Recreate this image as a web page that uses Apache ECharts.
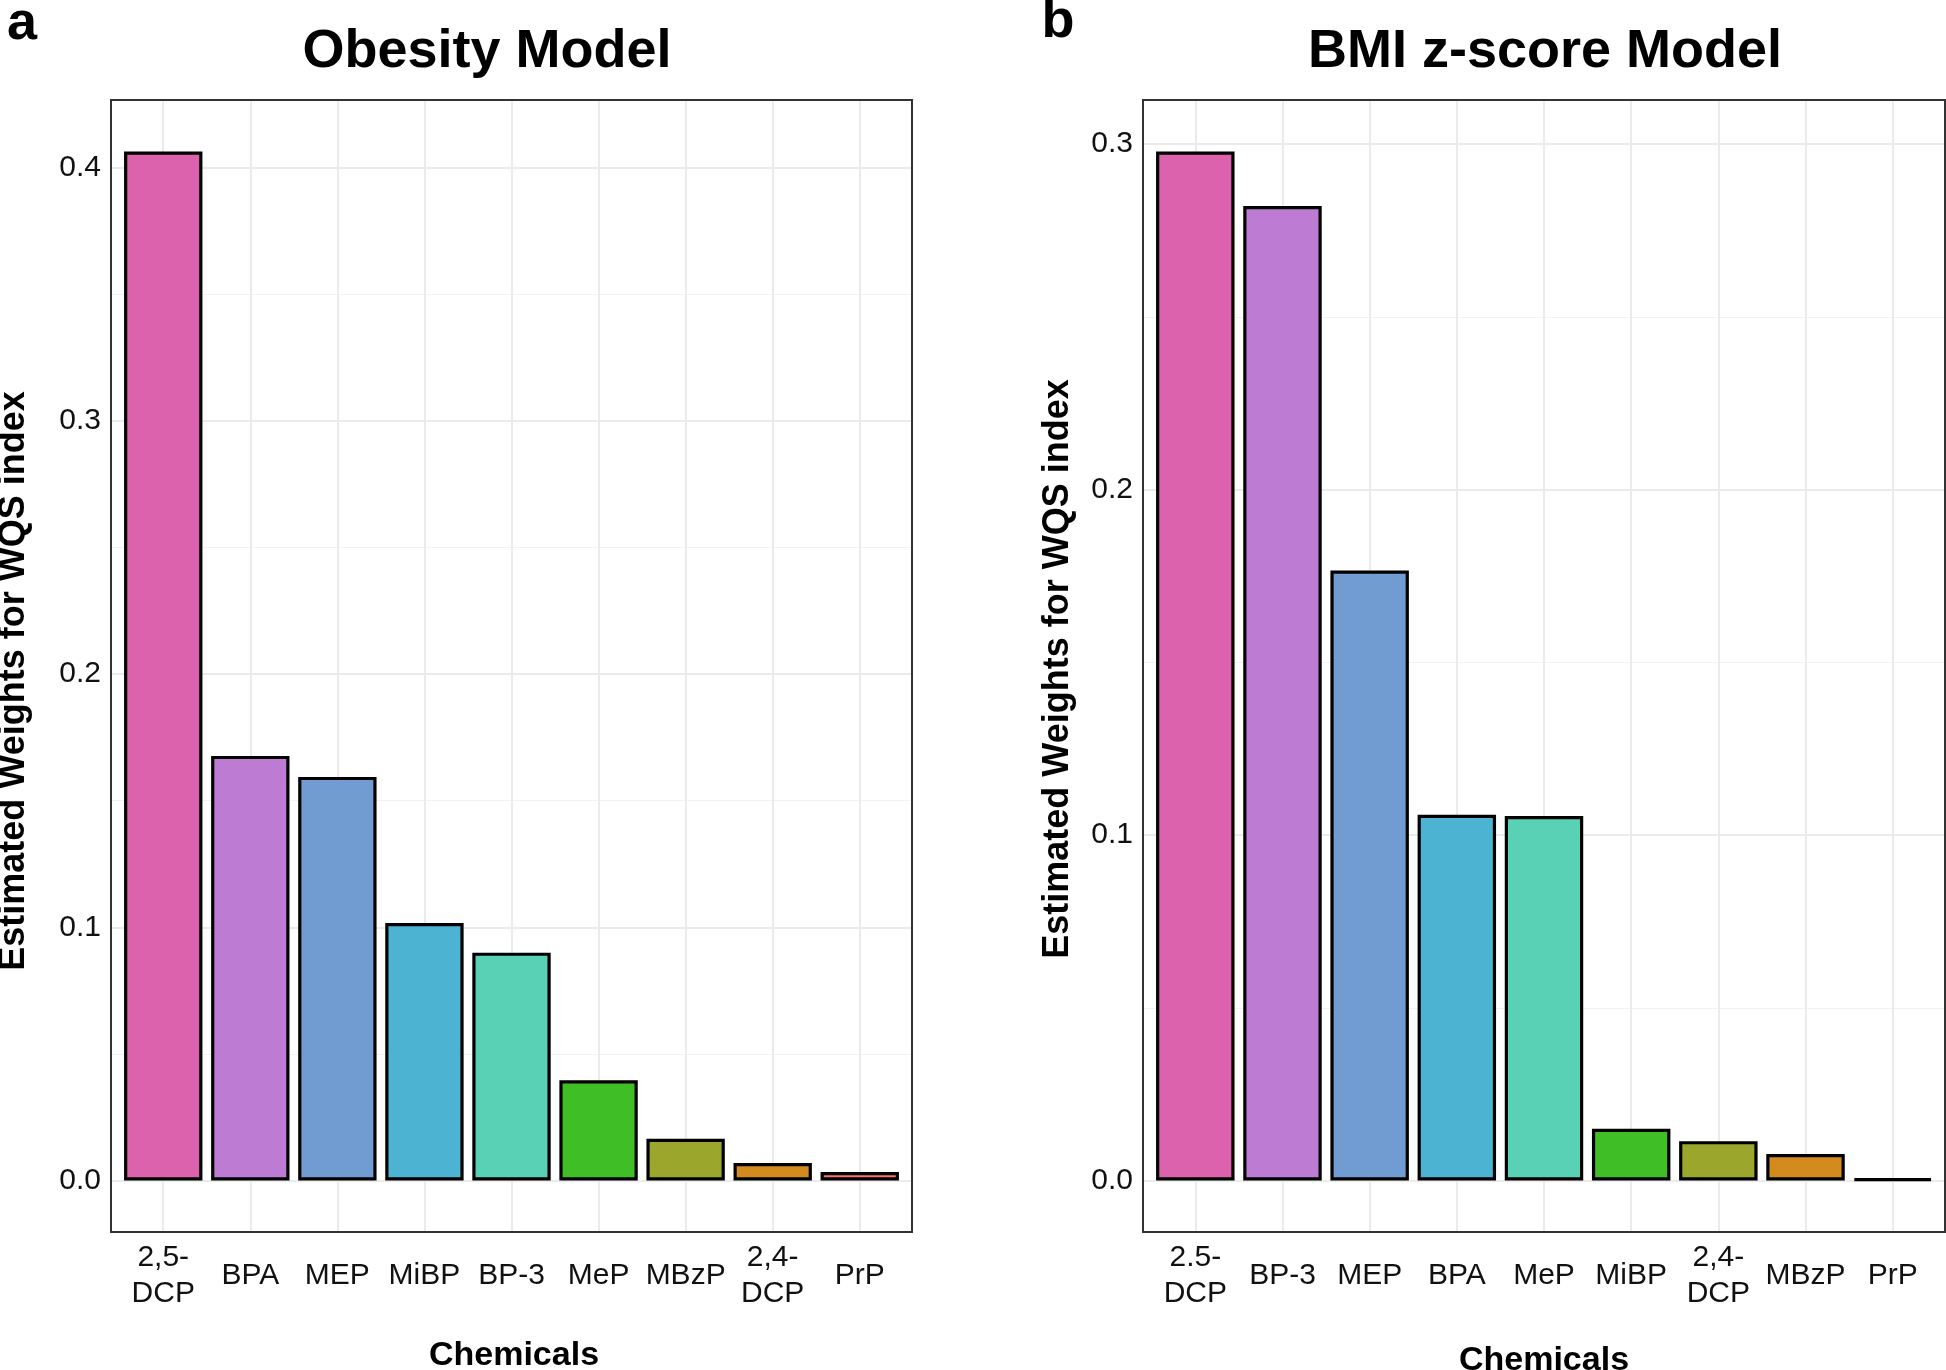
<!DOCTYPE html>
<html>
<head>
<meta charset="utf-8">
<script src="https://cdn.jsdelivr.net/npm/echarts@6/dist/echarts.min.js"></script>
<style>
  html, body { margin: 0; padding: 0; background: #fff; }
  #chart { width: 1946px; height: 1370px; }
</style>
</head>
<body>
<div id="chart"></div>
<script>
// panel a - Obesity Model
const categoriesA = ['2,5-\nDCP', 'BPA', 'MEP', 'MiBP', 'BP-3', 'MeP', 'MBzP', '2,4-\nDCP', 'PrP'];
const valuesA = [0.4064, 0.1677, 0.1594, 0.1017, 0.0900, 0.0396, 0.0165, 0.0069, 0.0034];
const ticksA = [0, 0.1, 0.2, 0.3, 0.4];

// panel b - BMI z-score Model
const categoriesB = ['2.5-\nDCP', 'BP-3', 'MEP', 'BPA', 'MeP', 'MiBP', '2,4-\nDCP', 'MBzP', 'PrP'];
const valuesB = [0.2979, 0.2821, 0.1766, 0.1059, 0.1055, 0.0150, 0.0114, 0.0077, 0.0005];
const ticksB = [0, 0.1, 0.2, 0.3];

// fill colours go by rank, same in both panels
const palette = ['#DD62AD', '#BE7BD4', '#709CD2', '#4CB3D2', '#58D1B4', '#40BE26', '#9BA72C', '#D38B1E', '#F8766D'];

const FONT = '"Liberation Sans", Arial, Helvetica, sans-serif';

var chart = echarts.init(document.getElementById('chart'), null, {renderer: 'canvas'});

var grids = [], xAxes = [], yAxes = [], series = [];

function addPanel(box, cats, vals, ticks) {
  var vmax = Math.max.apply(null, vals);
  var yMax = vmax * 1.05;     // ggplot style 5% expansion
  var yMin = -vmax * 0.05;
  var band = box.w / (cats.length - 1 + 1.2);
  var toPx = (v) => box.y + box.h * (yMax - v) / (yMax - yMin);
  var topTick = ticks[ticks.length - 1];
  var g0 = grids.length;

  // outer panel with border
  grids.push({left: box.x, top: box.y, width: box.w, height: box.h, show: true,
    borderColor: '#333', borderWidth: 2, backgroundColor: 'transparent', z: 5});
  xAxes.push({gridIndex: g0, type: 'value', show: false});
  yAxes.push({gridIndex: g0, type: 'value', show: false});

  // horizontal grid lines + tick labels
  grids.push({left: box.x, top: toPx(topTick), width: box.w, height: toPx(0) - toPx(topTick)});
  xAxes.push({gridIndex: g0 + 1, type: 'value', show: false});
  yAxes.push({
    gridIndex: g0 + 1, type: 'value', min: 0, max: topTick, interval: 0.1,
    axisLine: {show: false}, axisTick: {show: false},
    axisLabel: {margin: 10, color: '#111', fontSize: 30, fontFamily: FONT,
      formatter: (v) => v.toFixed(1)},
    splitLine: {show: true, lineStyle: {color: '#EBEBEB', width: 2}},
    minorTick: {show: false, splitNumber: 2},
    minorSplitLine: {show: true, lineStyle: {color: '#F2F2F2', width: 1}}
  });

  // bars
  grids.push({left: box.x + 0.6 * band, top: box.y, width: band * (cats.length - 1), height: box.h});
  xAxes.push({
    gridIndex: g0 + 2, type: 'category', data: cats, boundaryGap: false,
    axisLine: {show: false}, axisTick: {show: false},
    axisLabel: {interval: 0, margin: 44, verticalAlign: 'middle', color: '#111',
      fontSize: 30, lineHeight: 36, fontFamily: FONT},
    splitLine: {show: true, interval: 0, lineStyle: {color: '#EBEBEB', width: 2}}
  });
  yAxes.push({gridIndex: g0 + 2, type: 'value', min: yMin, max: yMax, show: false,
    splitLine: {show: false}});

  series.push({
    type: 'bar', xAxisIndex: g0 + 2, yAxisIndex: g0 + 2,
    barWidth: band * 0.9,
    data: vals.map((v, i) => ({value: v, itemStyle: {color: palette[i]}})),
    itemStyle: {borderColor: '#000', borderWidth: 3.2},
    emphasis: {disabled: true},
    animation: false,
    z: 2
  });
}

addPanel({x: 111, y: 100, w: 801, h: 1132}, categoriesA, valuesA, ticksA);
addPanel({x: 1143, y: 100, w: 802, h: 1132}, categoriesB, valuesB, ticksB);

function txt(x, y, text, size, rot) {
  return {
    type: 'text', x: x, y: y, rotation: rot || 0,
    style: {text: text, fill: '#000', font: 'bold ' + size + 'px ' + FONT,
      textAlign: 'center', textVerticalAlign: 'middle'}
  };
}

var opts = {
  animation: false,
  backgroundColor: '#fff',
  grid: grids,
  xAxis: xAxes,
  yAxis: yAxes,
  series: series,
  graphic: [
    txt(22, 24, 'a', 54),
    txt(1058, 22, 'b', 54),
    txt(487, 52, 'Obesity Model', 54),
    txt(1545, 52, 'BMI z-score Model', 54),
    txt(14, 681, 'Estimated Weights for WQS index', 36, Math.PI / 2),
    txt(1058, 669, 'Estimated Weights for WQS index', 36, Math.PI / 2),
    txt(514, 1356, 'Chemicals', 34),
    txt(1544, 1361, 'Chemicals', 34)
  ]
};

chart.setOption(opts);
</script>
</body>
</html>
